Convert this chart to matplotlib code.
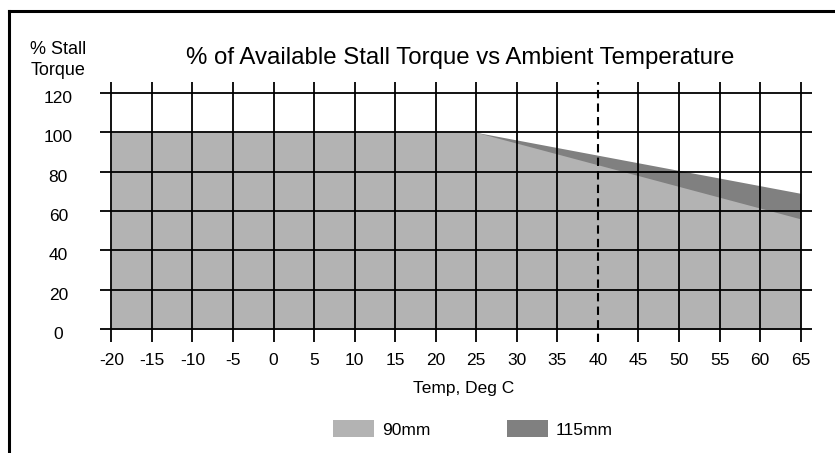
import numpy as np
import matplotlib.pyplot as plt
from matplotlib.patches import Patch
from matplotlib.lines import Line2D
import matplotlib.transforms as mtransforms

plt.rcParams['font.family'] = ['Liberation Sans', 'DejaVu Sans']
plt.rcParams['axes.unicode_minus'] = False

# ======================================================
# Data
# ======================================================

temps = [-20, 25, 65]
torque_90mm = [100, 100, 56]
torque_115mm = [100, 100, 69]

x_ticks = list(range(-20, 66, 5))
y_ticks = list(range(0, 121, 20))
rated_temp = 40

title = "% of Available Stall Torque vs Ambient Temperature"

# ======================================================
# Figure
# ======================================================

W, H = 835, 453
fig = plt.figure(figsize=(W / 100, H / 100), dpi=100)

# axes box in pixels: grid lines overshoot the data range a little
left, right, top, bottom = 100, 812, 82, 342
ax = fig.add_axes([left / W, 1 - bottom / H, (right - left) / W, (bottom - top) / H])
x0, x1 = -21.4, 66.4
y0, y1 = -6.6, 125.6
ax.set_xlim(x0, x1)
ax.set_ylim(y0, y1)

ax.fill_between(temps, 0, torque_115mm, color="#808080", lw=0, zorder=1)
ax.fill_between(temps, 0, torque_90mm, color="#b3b3b3", lw=0, zorder=2)

# grid, drawn past the data range like in the original
ax.hlines(y_ticks, x0, x1, color="black", lw=1.3, zorder=3)
ax.vlines([t for t in x_ticks if t != rated_temp], y0, y1, color="black", lw=1.3, zorder=3)
ax.vlines(rated_temp, y0, y1, color="black", lw=1.5, linestyles=(0, (4, 2.5)), zorder=4)

for s in ax.spines.values():
    s.set_visible(False)
ax.set_xticks(x_ticks)
ax.set_yticks(y_ticks)
ax.tick_params(length=0, labelsize=12.5)
ax.tick_params(axis="x", pad=8)
ax.tick_params(axis="y", pad=30)
shift = mtransforms.ScaledTranslation(0, -4 / 100, fig.dpi_scale_trans)
for lab in ax.get_yticklabels():
    lab.set_horizontalalignment("center")
    lab.set_transform(lab.get_transform() + shift)

fig.text(460 / W, 1 - 58 / H, title, ha="center", va="center", fontsize=17.3)
fig.text(58.5 / W, 1 - 60 / H, "% Stall\nTorque", ha="center", va="center",
         fontsize=13, linespacing=1.3)
fig.text(464 / W, 1 - 389 / H, "Temp, Deg C", ha="center", va="center", fontsize=12.5)

handles = [Patch(color="#b3b3b3", lw=0), Patch(color="#808080", lw=0)]
fig.legend(handles, ["90mm", "115mm"], loc="center", bbox_to_anchor=(473 / W, 1 - 429 / H),
           ncol=2, frameon=False, fontsize=12.5, handlelength=2.36, handleheight=1.1,
           handletextpad=0.46, columnspacing=4.4, borderpad=0, borderaxespad=0)

# outer frame (only left and top edges visible)
fig.add_artist(Line2D([9 / W, 9 / W], [0, 1 - 11 / H], color="black", lw=2.2))
fig.add_artist(Line2D([9 / W, 1], [1 - 11 / H, 1 - 11 / H], color="black", lw=2.2))

fig.savefig("out.png", dpi=100)
